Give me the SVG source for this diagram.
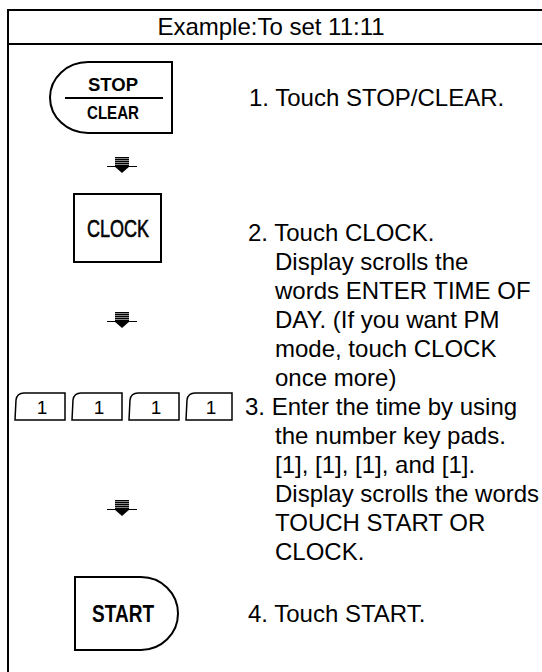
<svg xmlns="http://www.w3.org/2000/svg" width="542" height="672" viewBox="0 0 542 672">
<style>
.frame{fill:none;stroke:#000;stroke-width:2}
.btn{fill:#fff;stroke:#000;stroke-width:2}
.key{fill:#fff;stroke:#000;stroke-width:1.5}
.t{font-family:"Liberation Sans",Arial,sans-serif;font-size:24px;fill:#000}
.b{font-family:"Liberation Sans Narrow","Liberation Sans",Arial,sans-serif;font-weight:bold;fill:#000;text-anchor:middle}
.c{font-family:"Liberation Sans Narrow","Liberation Sans",Arial,sans-serif;fill:#000;stroke:#000;stroke-width:0.6;text-anchor:middle}
.k{font-family:"Liberation Sans",Arial,sans-serif;font-size:19px;fill:#000;text-anchor:middle}
</style>
<defs>
<g id="arr">
<rect x="-7" y="0" width="14" height="9" fill="#888"/>
<path d="M-7 0.5H7M-7 2.5H7M-7 4.5H7M-7 6.5H7M-7 8.5H7" stroke="#000" stroke-width="1"/>
<path d="M-15 9.5H15" stroke="#000" stroke-width="1"/>
<polygon points="-8,9 8,9 0,16" fill="#000"/>
</g>
</defs>
<g id="frame">
<path class="frame" d="M8 672V10H543M8 44H543"/>
<text class="t" x="271" y="35" text-anchor="middle">Example:To set 11:11</text>
</g>
<g id="connectors">
<use href="#arr" x="122" y="157"/>
<use href="#arr" x="122" y="312"/>
<use href="#arr" x="122" y="500"/>
</g>
<g id="stop-clear">
<path class="btn" d="M172 62H88A38 35.5 0 0 0 88 133H172Z"/>
<path d="M65 98H163" stroke="#000" stroke-width="2"/>
<text class="b" x="113" y="91" font-size="19" textLength="50" lengthAdjust="spacingAndGlyphs">STOP</text>
<text class="b" x="113" y="119" font-size="19" textLength="52" lengthAdjust="spacingAndGlyphs">CLEAR</text>
</g>
<g id="step1">
<text class="t" x="249" y="106">1. Touch STOP/CLEAR.</text>
</g>
<g id="clock">
<rect class="btn" x="74" y="194" width="87" height="68"/>
<text class="c" x="118" y="237" font-size="24" textLength="62" lengthAdjust="spacingAndGlyphs">CLOCK</text>
</g>
<g id="step2">
<text class="t" x="248" y="241">2. Touch CLOCK.</text>
<text class="t" x="275" y="270">Display scrolls the</text>
<text class="t" x="275" y="299">words ENTER TIME OF</text>
<text class="t" x="275" y="328">DAY. (If you want PM</text>
<text class="t" x="275" y="357">mode, touch CLOCK</text>
<text class="t" x="275" y="386">once more)</text>
</g>
<g id="keys">
<path class="key" d="M15 420L16 400Q17 393 24 393H65V420Z"/>
<text class="k" x="42" y="414">1</text>
<path class="key" d="M72 420L73 400Q74 393 81 393H122V420Z"/>
<text class="k" x="99" y="414">1</text>
<path class="key" d="M129 420L130 400Q131 393 138 393H179V420Z"/>
<text class="k" x="156" y="414">1</text>
<path class="key" d="M186 420L187 400Q188 393 195 393H232V420Z"/>
<text class="k" x="211" y="414">1</text>
</g>
<g id="step3">
<text class="t" x="245" y="415">3. Enter the time by using</text>
<text class="t" x="275" y="444">the number key pads.</text>
<text class="t" x="275" y="473">[1], [1], [1], and [1].</text>
<text class="t" x="275" y="502">Display scrolls the words</text>
<text class="t" x="275" y="531">TOUCH START OR</text>
<text class="t" x="275" y="560">CLOCK.</text>
</g>
<g id="start">
<path class="btn" d="M75 577H141A37 36.5 0 0 1 141 650H75Z"/>
<text class="b" x="123" y="622" font-size="23" textLength="62" lengthAdjust="spacingAndGlyphs">START</text>
</g>
<g id="step4">
<text class="t" x="248" y="622">4. Touch START.</text>
</g>
</svg>
